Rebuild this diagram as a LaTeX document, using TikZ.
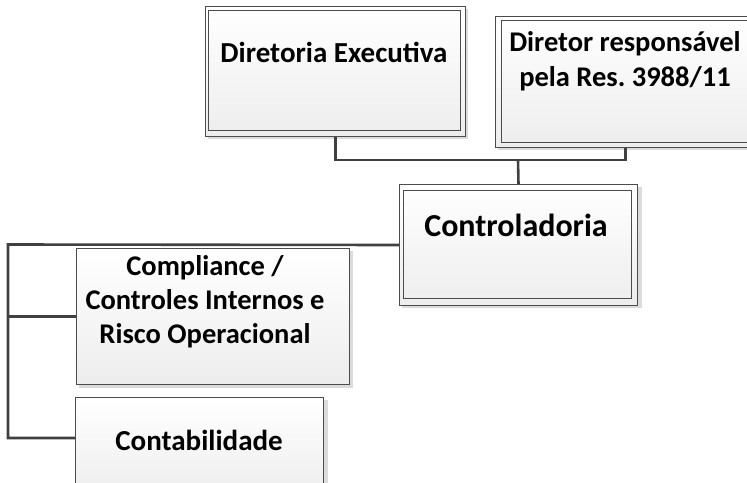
\documentclass[tikz,border=0pt]{standalone}
\usepackage{fontspec}
\setmainfont{Carlito}
\frenchspacing
\begin{document}
\begin{tikzpicture}[x=1pt,y=-1pt,
  boxo/.style={draw=black!70, line width=1pt, top color=white, bottom color=black!7, rectangle, inner sep=0pt, anchor=north west},
  shad/.style={fill=black!14, draw=none},
  innerl/.style={draw=black!70, line width=1pt},
  conn/.style={draw=black!75, line width=2.6pt},
  lbl/.style={font=\bfseries\fontsize{28.5}{35}\selectfont, align=center, inner sep=0pt}
]
\useasboundingbox (0,0) rectangle (747,482);
% shadows
\fill[shad] (208,9) rectangle (468,139);
\fill[shad] (498,19) rectangle (760,150);
\fill[shad] (402,187) rectangle (642,308);
\fill[shad] (79,251) rectangle (353,388);
\fill[shad] (79,400) rectangle (328,500);
% boxes
\node[boxo, minimum width=260pt, minimum height=130pt] (de) at (205,6) {};
\draw[innerl] (208,10) rectangle (460,130);
\node[boxo, minimum width=260pt, minimum height=131pt] (dr) at (495,16) {};
\draw[innerl] (501,20) rectangle (760,142);
\node[boxo, minimum width=238pt, minimum height=121pt] (ctrl) at (399,184) {};
\draw[innerl] (403,190) rectangle (631,298);
\node[boxo, minimum width=273pt, minimum height=136pt] (comp) at (76,248) {};
\node[boxo, minimum width=248pt, minimum height=100pt] (cont) at (75,397) {};
% labels
\node[lbl, font=\bfseries\fontsize{29}{35}\selectfont] (deT) at (334,52) {Diretoria Executiva};
\node[lbl] (drT) at (625,61) {Diretor responsável\\pela Res. 3988/11};
\node[lbl, font=\bfseries\fontsize{32}{35}\selectfont] (ctrlT) at (516,225) {Controladoria};
\node[lbl, font=\bfseries\fontsize{28.5}{34}\selectfont] (compT) at (205,302) {Compliance /\\Controles Internos e\\Risco Operacional};
\node[lbl, font=\bfseries\fontsize{29}{35}\selectfont] (contT) at (199,440) {Contabilidade};
% connectors
\coordinate (bus) at (518,160);
\coordinate (lb) at (8,244.5);
\coordinate (contin) at (75,438);
\draw[conn] (de.south) |- (bus) -| (dr.south);
\draw[conn] (bus) -- (ctrl.north);
\draw[conn] (ctrl.west) -- (lb) |- (contin);
\draw[conn] (lb |- comp.west) -- (comp.west);
\end{tikzpicture}
\end{document}
